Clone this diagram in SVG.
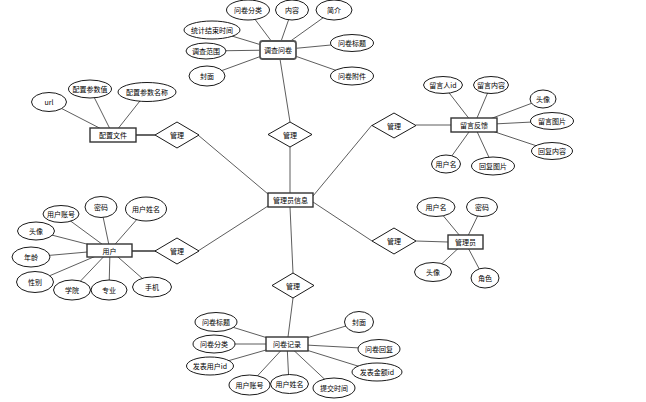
<svg xmlns="http://www.w3.org/2000/svg" width="646" height="402" viewBox="0 0 646 402">
<style>
.ln{stroke:#333;stroke-width:0.8;fill:none}
.tk{stroke:#666;stroke-width:2;fill:none}
.at ellipse{fill:#fff;stroke:#000;stroke-width:0.9}
.en rect{fill:#fff;stroke:#333;stroke-width:1.4}
.rl polygon{fill:#fff;stroke:#000;stroke-width:0.9}
text{font-family:"Noto Sans CJK SC","Liberation Sans",sans-serif;font-size:7px;fill:#000;text-anchor:middle;dominant-baseline:central}
</style>
<rect width="646" height="402" fill="#fff"/>
<g id="connectors">
<line class="ln" x1="248" y1="10" x2="278" y2="50"/>
<line class="ln" x1="292" y1="10" x2="278" y2="50"/>
<line class="ln" x1="334" y1="10" x2="278" y2="50"/>
<line class="ln" x1="212" y1="30" x2="278" y2="50"/>
<line class="ln" x1="206" y1="51" x2="278" y2="50"/>
<line class="ln" x1="207" y1="76" x2="278" y2="50"/>
<line class="ln" x1="352" y1="43" x2="278" y2="50"/>
<line class="ln" x1="352" y1="76" x2="278" y2="50"/>
<line class="ln" x1="280" y1="59" x2="290" y2="122"/>
<line class="ln" x1="49" y1="102" x2="113" y2="135"/>
<line class="ln" x1="90" y1="89" x2="113" y2="135"/>
<line class="ln" x1="147" y1="92" x2="113" y2="135"/>
<line class="tk" x1="136" y1="135" x2="155" y2="135"/>
<line class="ln" x1="443" y1="85" x2="474" y2="125"/>
<line class="ln" x1="491" y1="85" x2="474" y2="125"/>
<line class="ln" x1="543" y1="99" x2="474" y2="125"/>
<line class="ln" x1="552" y1="121" x2="474" y2="125"/>
<line class="ln" x1="552" y1="151" x2="474" y2="125"/>
<line class="ln" x1="446" y1="164" x2="474" y2="125"/>
<line class="ln" x1="493" y1="166" x2="474" y2="125"/>
<line class="ln" x1="416" y1="125" x2="451" y2="125"/>
<line class="ln" x1="61" y1="214" x2="110" y2="250"/>
<line class="ln" x1="101" y1="207" x2="110" y2="250"/>
<line class="ln" x1="146" y1="209" x2="110" y2="250"/>
<line class="ln" x1="36" y1="231" x2="110" y2="250"/>
<line class="ln" x1="31" y1="257" x2="110" y2="250"/>
<line class="ln" x1="35" y1="282" x2="110" y2="250"/>
<line class="ln" x1="72" y1="290" x2="110" y2="250"/>
<line class="ln" x1="109" y1="290" x2="110" y2="250"/>
<line class="ln" x1="152" y1="287" x2="110" y2="250"/>
<line class="tk" x1="132" y1="251" x2="156" y2="251"/>
<line class="ln" x1="436" y1="207" x2="465" y2="242"/>
<line class="ln" x1="482" y1="207" x2="465" y2="242"/>
<line class="ln" x1="433" y1="272" x2="465" y2="242"/>
<line class="ln" x1="484" y1="278" x2="465" y2="242"/>
<line class="ln" x1="416" y1="241" x2="448" y2="242"/>
<line class="ln" x1="216" y1="322" x2="287" y2="344"/>
<line class="ln" x1="214" y1="344" x2="287" y2="344"/>
<line class="ln" x1="210" y1="366" x2="287" y2="344"/>
<line class="ln" x1="249" y1="385" x2="287" y2="344"/>
<line class="ln" x1="289" y1="384" x2="287" y2="344"/>
<line class="ln" x1="334" y1="388" x2="287" y2="344"/>
<line class="ln" x1="359" y1="322" x2="287" y2="344"/>
<line class="ln" x1="379" y1="349" x2="287" y2="344"/>
<line class="ln" x1="377" y1="372" x2="287" y2="344"/>
<line class="ln" x1="288" y1="337" x2="293" y2="298"/>
<line class="ln" x1="198" y1="135" x2="268" y2="194"/>
<line class="ln" x1="198" y1="251" x2="268" y2="206"/>
<line class="ln" x1="290" y1="147" x2="290" y2="193"/>
<line class="ln" x1="372" y1="125" x2="313" y2="196"/>
<line class="ln" x1="372" y1="241" x2="313" y2="202"/>
<line class="ln" x1="293" y1="273" x2="290" y2="207"/>
</g>
<g id="admin-info" class="en"><rect x="268" y="193" width="45" height="14"/><text x="290.5" y="200">管理员信息</text></g>
<g id="survey" class="en"><rect x="260" y="41" width="36" height="18" rx="2.5" style="stroke:#555;stroke-width:1.8"/><rect x="261.5" y="42.5" width="33" height="15" rx="1.5" style="stroke:#fff;stroke-width:0.6;fill:none"/><text x="278" y="50">调查问卷</text></g>
<g id="config" class="en"><rect x="90" y="128" width="46" height="14"/><text x="113" y="135">配置文件</text></g>
<g id="feedback" class="en"><rect x="451" y="118" width="46" height="14"/><text x="474" y="125">留言反馈</text></g>
<g id="user" class="en"><rect x="87" y="244" width="45" height="13"/><text x="109.5" y="250.5">用户</text></g>
<g id="admin" class="en"><rect x="448" y="235" width="35" height="14"/><text x="465.5" y="242">管理员</text></g>
<g id="record" class="en"><rect x="266" y="337" width="42" height="14"/><text x="287" y="344">问卷记录</text></g>
<g id="rel-top" class="rl"><polygon points="290,122 312,134.5 290,147 268,134.5"/><text x="290" y="134.5">管理</text></g>
<g id="rel-config" class="rl"><polygon points="177,122 199,135 177,148 155,135"/><text x="177" y="135">管理</text></g>
<g id="rel-feedback" class="rl"><polygon points="394,113 416,125.5 394,138 372,125.5"/><text x="394" y="125.5">管理</text></g>
<g id="rel-admin" class="rl"><polygon points="394,228 416,241 394,254 372,241"/><text x="394" y="241">管理</text></g>
<g id="rel-user" class="rl"><polygon points="177,238 199,251 177,264 155,251"/><text x="177" y="251">管理</text></g>
<g id="rel-record" class="rl"><polygon points="293,273 314,285.5 293,298 272,285.5"/><text x="293" y="285.5">管理</text></g>
<g class="at">
<g id="a-s1"><ellipse cx="248" cy="10" rx="21.5" ry="10"/><text x="248" y="10">问卷分类</text></g>
<g id="a-s2"><ellipse cx="292" cy="10" rx="16.5" ry="10"/><text x="292" y="10">内容</text></g>
<g id="a-s3"><ellipse cx="334" cy="10" rx="18" ry="10"/><text x="334" y="10">简介</text></g>
<g id="a-s4"><ellipse cx="212" cy="30" rx="28" ry="9"/><text x="212" y="30">统计结束时间</text></g>
<g id="a-s5"><ellipse cx="206" cy="51" rx="20" ry="8"/><text x="206" y="51">调查范围</text></g>
<g id="a-s6"><ellipse cx="207" cy="76" rx="18" ry="10"/><text x="207" y="76">封面</text></g>
<g id="a-s7"><ellipse cx="352" cy="43" rx="21.5" ry="8.5"/><text x="352" y="43">问卷标题</text></g>
<g id="a-s8"><ellipse cx="352" cy="76" rx="21.5" ry="9"/><text x="352" y="76">问卷附件</text></g>
<g id="a-c1"><ellipse cx="49" cy="102" rx="17.5" ry="9.5"/><text x="49" y="102">url</text></g>
<g id="a-c2"><ellipse cx="90" cy="89" rx="21.5" ry="9"/><text x="90" y="89">配置参数值</text></g>
<g id="a-c3"><ellipse cx="147" cy="92" rx="29" ry="9.5"/><text x="147" y="92">配置参数名称</text></g>
<g id="a-f1"><ellipse cx="443" cy="85" rx="19.5" ry="8.5"/><text x="443" y="85">留言人id</text></g>
<g id="a-f2"><ellipse cx="491" cy="85" rx="17.5" ry="8.5"/><text x="491" y="85">留言内容</text></g>
<g id="a-f3"><ellipse cx="543" cy="99" rx="13" ry="9"/><text x="543" y="99">头像</text></g>
<g id="a-f4"><ellipse cx="552" cy="121" rx="21.5" ry="8.5"/><text x="552" y="121">留言图片</text></g>
<g id="a-f5"><ellipse cx="552" cy="151" rx="20.5" ry="8.5"/><text x="552" y="151">回复内容</text></g>
<g id="a-f6"><ellipse cx="446" cy="164" rx="14.5" ry="9"/><text x="446" y="164">用户名</text></g>
<g id="a-f7"><ellipse cx="493" cy="166" rx="21.5" ry="9"/><text x="493" y="166">回复图片</text></g>
<g id="a-u1"><ellipse cx="61" cy="214" rx="18" ry="8.5"/><text x="61" y="214">用户账号</text></g>
<g id="a-u2"><ellipse cx="101" cy="207" rx="16" ry="10.5"/><text x="101" y="207">密码</text></g>
<g id="a-u3"><ellipse cx="146" cy="209" rx="20.5" ry="12"/><text x="146" y="209">用户姓名</text></g>
<g id="a-u4"><ellipse cx="36" cy="231" rx="18.5" ry="9"/><text x="36" y="231">头像</text></g>
<g id="a-u5"><ellipse cx="31" cy="257" rx="19" ry="10"/><text x="31" y="257">年龄</text></g>
<g id="a-u6"><ellipse cx="35" cy="282" rx="18.5" ry="10.5"/><text x="35" y="282">性别</text></g>
<g id="a-u7"><ellipse cx="72" cy="290" rx="18.5" ry="10"/><text x="72" y="290">学院</text></g>
<g id="a-u8"><ellipse cx="109" cy="290" rx="18" ry="10"/><text x="109" y="290">专业</text></g>
<g id="a-u9"><ellipse cx="152" cy="287" rx="19.5" ry="10"/><text x="152" y="287">手机</text></g>
<g id="a-m1"><ellipse cx="436" cy="207" rx="19" ry="9.5"/><text x="436" y="207">用户名</text></g>
<g id="a-m2"><ellipse cx="482" cy="207" rx="15.5" ry="9.5"/><text x="482" y="207">密码</text></g>
<g id="a-m3"><ellipse cx="433" cy="272" rx="18.5" ry="9.5"/><text x="433" y="272">头像</text></g>
<g id="a-m4"><ellipse cx="485" cy="278" rx="14" ry="10"/><text x="485" y="278">角色</text></g>
<g id="a-r1"><ellipse cx="216" cy="322" rx="21" ry="9.5"/><text x="216" y="322">问卷标题</text></g>
<g id="a-r2"><ellipse cx="214" cy="344" rx="21" ry="9"/><text x="214" y="344">问卷分类</text></g>
<g id="a-r3"><ellipse cx="210" cy="366" rx="23.5" ry="9"/><text x="210" y="366">发表用户id</text></g>
<g id="a-r4"><ellipse cx="249.5" cy="385" rx="20.5" ry="10"/><text x="249.5" y="385">用户账号</text></g>
<g id="a-r5"><ellipse cx="289.5" cy="384" rx="19" ry="9.5"/><text x="289.5" y="384">用户姓名</text></g>
<g id="a-r6"><ellipse cx="334" cy="388" rx="21" ry="10"/><text x="334" y="388">提交时间</text></g>
<g id="a-r7"><ellipse cx="359" cy="322" rx="14.5" ry="10.5"/><text x="359" y="322">封面</text></g>
<g id="a-r8"><ellipse cx="379" cy="349" rx="21" ry="9.5"/><text x="379" y="349">问卷回复</text></g>
<g id="a-r9"><ellipse cx="377" cy="372" rx="25" ry="9"/><text x="377" y="372">发表金额id</text></g>
</g>
</svg>
